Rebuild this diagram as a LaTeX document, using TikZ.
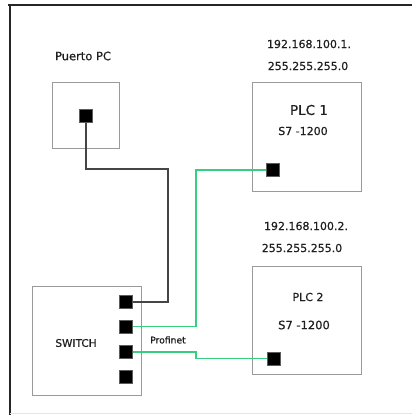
\documentclass[tikz,border=0pt]{standalone}
\usepackage{fontspec}
\setmainfont{DejaVu Sans}[UprightFeatures={FakeBold=0.6}]
\usetikzlibrary{positioning}
\definecolor{netgreen}{HTML}{36CF80}
\definecolor{boxgray}{HTML}{9A9A9A}
\definecolor{textdark}{HTML}{1E1E1E}
\definecolor{cablegray}{HTML}{454545}

\begin{document}
\begin{tikzpicture}[
    x=1pt, y=-1pt,
    font=\fontsize{11}{13}\selectfont, text=textdark,
    device/.style={draw=boxgray, line width=1pt, inner sep=0pt},
    port/.style={draw=boxgray!60!black, fill=black, line width=0.4pt,
      minimum size=13pt, inner sep=0pt},
    label/.style={inner sep=0pt},
    pccable/.style={draw=cablegray, line width=1.4pt},
    profinet/.style={draw=netgreen, line width=1.4pt}
  ]
    \useasboundingbox (0,0) rectangle (412,415);
    % frame
    \draw[line width=2.6pt, black!85] (8,5) -- (412,5);
    \draw[line width=2.6pt, black!85] (10,5) -- (10,415);
    \draw[line width=0.8pt, black!10] (10,413.5) -- (412,413.5);

    % PC
    \node[label, font=\fontsize{11.5}{13}\selectfont] (pclabel) at (83,56) {Puerto PC};
    \node[device, minimum width=67pt, minimum height=66pt] (pcbox) at (85.5,115) {};
    \node[port] (pcport) at (86,116) {};

    % PLC 1
    \node[label] (ipone) at (309,44) {192.168.100.1.};
    \node[label] (maskone) at (308,66) {255.255.255.0};
    \node[device, minimum width=109pt, minimum height=109pt] (plcone) at (306.5,136.5) {};
    \node[label, font=\fontsize{13.5}{16}\selectfont] (plconename) at (309,110) {PLC 1};
    \node[label] (plconetype) at (303,131) {S7 -1200};
    \node[port] (plconeport) at (273,170) {};

    % PLC 2
    \node[label] (iptwo) at (306,226) {192.168.100.2.};
    \node[label] (masktwo) at (302,248) {255.255.255.0};
    \node[device, minimum width=109pt, minimum height=108pt] (plctwo) at (306.5,320) {};
    \node[label, font=\fontsize{11}{13}\selectfont] (plctwoname) at (308,297) {PLC 2};
    \node[label, font=\fontsize{11.5}{13}\selectfont] (plctwotype) at (304,325) {S7 -1200};
    \node[port] (plctwoport) at (273.5,358.5) {};

    % switch
    \node[device, minimum width=109pt, minimum height=109pt] (switch) at (86.5,340.5) {};
    \node[label, font=\fontsize{10.5}{12}\selectfont] (switchname) at (76,343) {SWITCH};
    \node[port] (swa) at (126,302) {};
    \node[port] (swb) at (126,326.5) {};
    \node[port] (swc) at (126,352) {};
    \node[port] (swd) at (126,376.5) {};
    \node[label, font=\fontsize{9.2}{11}\selectfont] (netlabel) at (168,340) {Profinet};

    % cables
    \coordinate (pcbend) at (168,169);
    \coordinate (greenbendA) at (196,170);
    \coordinate (greenbendB) at (196,352);
    \draw[pccable] (pcport.south) |- (pcbend) |- (swa.east);
    \draw[profinet] (swb.east) -| (greenbendA) -- (plconeport.west);
    \draw[profinet] (swc.east) -| (greenbendB) |- (plctwoport.west);
  \end{tikzpicture}
\end{document}
